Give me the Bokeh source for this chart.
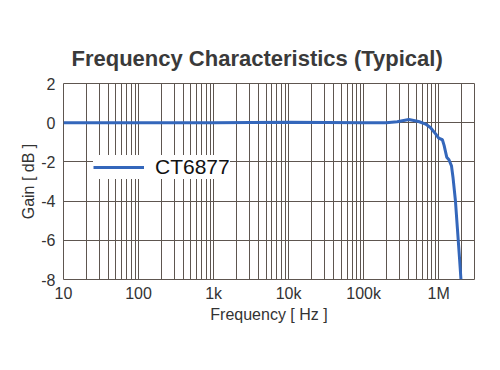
from bokeh.plotting import figure
from bokeh.models import FixedTicker, Range1d, Legend, LegendItem
from bokeh.embed import file_html
from bokeh.resources import INLINE

# ---- data ----
freq_hz = [10, 100, 1e3, 1e4, 1e5, 2e5, 2.8e5, 4e5, 5.4e5, 6.7e5, 7.8e5, 9.1e5,
           1.0e6, 1.12e6, 1.18e6, 1.28e6, 1.37e6, 1.48e6, 1.55e6, 1.67e6,
           1.77e6, 1.89e6, 1.98e6]
gain_db = [0.0, 0.0, 0.0, 0.02, 0.0, 0.0, 0.05, 0.16, 0.06, -0.07, -0.26, -0.57,
           -0.79, -0.87, -1.16, -1.76, -1.89, -2.2, -2.78, -3.97,
           -5.33, -6.86, -8.0]
series_name = "CT6877"

x_ticks = [10, 100, 1e3, 1e4, 1e5, 1e6]
x_tick_labels = ["10", "100", "1k", "10k", "100k", "1M"]
y_ticks = [-8, -6, -4, -2, 0, 2]
y_tick_labels = ["-8", "-6", "-4", "-2", "0", "2"]
x_grid_lines = [m * 10 ** k for k in range(1, 7) for m in range(1, 10) if m * 10 ** k < 3e6]

FONT = "Liberation Sans"
GRID = "#5e5650"
TEXT = "#333333"
LINE = "#3467bb"

p = figure(width=484, height=354, x_axis_type="log",
           x_range=Range1d(10, 3e6), y_range=Range1d(-8, 2),
           output_backend="svg", toolbar_location=None,
           min_border_left=63, min_border_right=10,
           min_border_top=83, min_border_bottom=75)

p.title.text = "Frequency Characteristics (Typical)"
p.title.text_font = FONT
p.title.text_font_size = "22px"
p.title.text_font_style = "bold"
p.title.text_color = "#3a3a3a"
p.title.align = "left"
p.title.offset = 8
p.title.standoff = 26

p.outline_line_color = GRID
p.outline_line_width = 1

# grids
p.xgrid.ticker = FixedTicker(ticks=x_grid_lines)
p.ygrid.ticker = FixedTicker(ticks=y_ticks)
for g in (p.xgrid, p.ygrid):
    g.grid_line_color = GRID
    g.grid_line_width = 1
    g.grid_line_alpha = 1.0

# axes
p.xaxis.ticker = FixedTicker(ticks=x_ticks)
p.xaxis.major_label_overrides = {t: l for t, l in zip(x_ticks, x_tick_labels)}
p.yaxis.ticker = FixedTicker(ticks=y_ticks)
p.yaxis.major_label_overrides = {t: l for t, l in zip(y_ticks, y_tick_labels)}
p.xaxis.axis_label = "Frequency [ Hz ]"
p.yaxis.axis_label = "Gain [ dB ]"
for ax in (p.xaxis[0], p.yaxis[0]):
    ax.axis_line_color = None
    ax.major_tick_line_color = None
    ax.minor_tick_line_color = None
    ax.major_label_text_font = FONT
    ax.major_label_text_font_size = "16px"
    ax.major_label_text_color = TEXT
    ax.axis_label_text_font = FONT
    ax.axis_label_text_font_size = "16px"
    ax.axis_label_text_font_style = "normal"
    ax.axis_label_text_color = TEXT
p.xaxis.major_label_standoff = -1
p.xaxis.axis_label_standoff = 1
p.yaxis.major_label_standoff = 2
p.yaxis.axis_label_standoff = 1

r = p.line(freq_hz, gain_db, line_color=LINE, line_width=3)

legend = Legend(items=[LegendItem(label=series_name, renderers=[r])],
                location=(30, 100), orientation="vertical")
legend.background_fill_color = "white"
legend.background_fill_alpha = 1.0
legend.border_line_color = None
legend.label_text_font = FONT
legend.label_text_font_size = "21px"
legend.label_text_color = "#111111"
legend.glyph_width = 51
legend.glyph_height = 20
legend.label_height = 24
legend.label_standoff = 11
legend.padding = 9
legend.margin = 0
p.add_layout(legend, "center")

open("out.html", "w").write(file_html(p, INLINE))
